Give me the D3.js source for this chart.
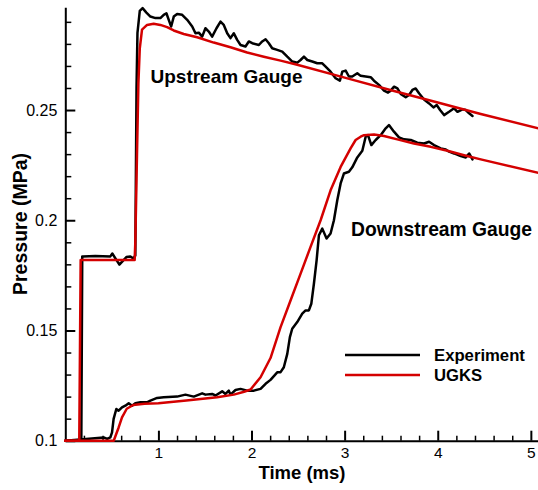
<!DOCTYPE html>
<html>
<head>
<meta charset="utf-8">
<script src="https://cdn.jsdelivr.net/npm/d3@7"></script>
<style>
  html, body { margin: 0; padding: 0; background: #fff; }
  svg { display: block; font-family: Arial, "Liberation Sans", Helvetica, sans-serif; }
</style>
</head>
<body>
<svg id="chart" width="538" height="490"></svg>
<script>
// ---------------- data ----------------
const xMajorTicks = [1, 2, 3, 4, 5];
const yMajorTicks = [0.1, 0.15, 0.2, 0.25];
const yTickLabels = ["0.1", "0.15", "0.2", "0.25"];
const seriesNames = ["Experiment", "UGKS"];
const annotations = ["Upstream Gauge", "Downstream Gauge"];

// Upstream gauge, experiment
const upExpT = [0, 0.172, 0.182, 0.19, 0.322, 0.484, 0.505, 0.581, 0.656, 0.699, 0.731, 0.752, 0.765, 0.775, 0.80, 0.83,
  0.871, 0.914, 0.968, 1.021, 1.057, 1.086, 1.111, 1.137, 1.165, 1.201, 1.255, 1.309, 1.363, 1.398, 1.434, 1.470,
  1.505, 1.541, 1.577, 1.624, 1.667, 1.702, 1.739, 1.774, 1.810, 1.846, 1.882, 1.935, 1.971, 2.008, 2.079, 2.115,
  2.151, 2.186, 2.222, 2.276, 2.330, 2.384, 2.438, 2.492, 2.527, 2.563, 2.599, 2.652, 2.706, 2.760, 2.796, 2.849,
  2.903, 2.949, 2.975, 3.011, 3.046, 3.082, 3.136, 3.172, 3.226, 3.280, 3.315, 3.369, 3.423, 3.466, 3.495, 3.531,
  3.567, 3.602, 3.656, 3.692, 3.728, 3.763, 3.799, 3.853, 3.907, 3.954, 3.989, 4.025, 4.068, 4.122, 4.176, 4.212,
  4.266, 4.301, 4.337, 4.373];
const upExpP = [0.1, 0.1, 0.1836, 0.1836, 0.1838, 0.1836, 0.1849, 0.1799, 0.1833, 0.1836, 0.1826, 0.184, 0.26, 0.285, 0.2950, 0.2962,
  0.2942, 0.2924, 0.2917, 0.2917, 0.2932, 0.2939, 0.2909, 0.2879, 0.2924, 0.2936, 0.2932, 0.2909, 0.2879, 0.2848, 0.2851, 0.2833,
  0.2871, 0.2856, 0.2833, 0.2871, 0.2901, 0.2886, 0.2848, 0.2826, 0.2848, 0.2818, 0.2795, 0.2788, 0.2811, 0.2803, 0.2795, 0.2811,
  0.2821, 0.2803, 0.2780, 0.2773, 0.2765, 0.2742, 0.2720, 0.2715, 0.2727, 0.2742, 0.2727, 0.2720, 0.2712, 0.2712, 0.2697, 0.2674,
  0.2644, 0.2633, 0.2674, 0.2679, 0.2652, 0.2652, 0.2667, 0.2655, 0.2652, 0.2649, 0.2633, 0.2614, 0.2588, 0.2579, 0.2588, 0.2606,
  0.2598, 0.2573, 0.2558, 0.2568, 0.2591, 0.2598, 0.2576, 0.2548, 0.2530, 0.2512, 0.2523, 0.2500, 0.2477, 0.2492, 0.2508, 0.2492,
  0.2503, 0.2500, 0.2485, 0.2473];

// Downstream gauge, experiment
const downExpT = [0, 0.412, 0.45, 0.484, 0.502, 0.519, 0.548, 0.573, 0.609, 0.645, 0.681, 0.717, 0.752, 0.806, 0.878, 0.914,
  0.986, 1.057, 1.201, 1.29, 1.38, 1.47, 1.505, 1.577, 1.613, 1.685, 1.72, 1.756, 1.774, 1.828, 1.882, 1.953, 2.025,
  2.097, 2.151, 2.204, 2.276, 2.312, 2.347, 2.384, 2.412, 2.437, 2.491, 2.545, 2.581, 2.616, 2.642, 2.670, 2.699,
  2.724, 2.760, 2.806, 2.849, 2.885, 2.921, 2.957, 2.992, 3.046, 3.082, 3.136, 3.190, 3.226, 3.251, 3.287, 3.333,
  3.387, 3.441, 3.476, 3.530, 3.584, 3.638, 3.710, 3.781, 3.853, 3.907, 3.960, 4.032, 4.086, 4.122, 4.176, 4.247,
  4.301, 4.337, 4.373];
const downExpP = [0.1, 0.1015, 0.1008, 0.1015, 0.1038, 0.1099, 0.1144, 0.1136, 0.1151, 0.1159, 0.1170, 0.1159, 0.1170, 0.1174, 0.1174, 0.1182,
  0.1194, 0.1197, 0.1200, 0.1209, 0.1200, 0.1215, 0.1209, 0.1212, 0.1205, 0.1224, 0.1212, 0.1227, 0.1209, 0.1230, 0.1235, 0.1227, 0.1227,
  0.1235, 0.1258, 0.1276, 0.1310, 0.1311, 0.1333, 0.1394, 0.1470, 0.1508, 0.1538, 0.1576, 0.1591, 0.1591, 0.1621, 0.1712, 0.1818,
  0.1932, 0.1962, 0.1917, 0.1940, 0.2000, 0.2091, 0.2167, 0.2212, 0.2220, 0.2240, 0.2285, 0.2315, 0.2379, 0.2386, 0.2341, 0.2364,
  0.2386, 0.2417, 0.2432, 0.2402, 0.2376, 0.2367, 0.2364, 0.2352, 0.2348, 0.2356, 0.2341, 0.2326, 0.2321, 0.2311, 0.2303, 0.2291,
  0.2285, 0.2303, 0.2276];

// Upstream gauge, UGKS
const upUgksT = [0, 0.15, 0.165, 0.745, 0.752, 0.77, 0.785, 0.80, 0.824, 0.878, 0.949, 1.021, 1.093, 1.164, 1.272, 1.416,
  1.594, 1.774, 1.953, 2.132, 2.312, 2.491, 3.0, 3.5, 4.0, 4.462, 5.08];
const upUgksP = [0.1, 0.1, 0.182, 0.182, 0.19, 0.23, 0.262, 0.278, 0.2865, 0.2886, 0.2891, 0.2886, 0.2876, 0.2861, 0.2845, 0.2830,
  0.2806, 0.2785, 0.2761, 0.2742, 0.2724, 0.2705, 0.2647, 0.2590, 0.2534, 0.2482, 0.2417];

// Downstream gauge, UGKS
const downUgksT = [0, 0.52, 0.573, 0.609, 0.66, 0.73, 0.85, 1.0, 1.3, 1.63, 1.81, 1.92, 1.99, 2.097, 2.204, 2.312, 2.419,
  2.527, 2.634, 2.742, 2.849, 2.957, 3.064, 3.118, 3.172, 3.208, 3.315, 3.423, 3.566, 3.744, 3.925, 4.104, 4.283, 4.462, 5.08];
const downUgksP = [0.1, 0.1, 0.106, 0.1106, 0.1145, 0.1162, 0.1168, 0.1170, 0.1182, 0.1197, 0.1209, 0.1222, 0.1232, 0.1288, 0.1375, 0.1515, 0.1636,
  0.1758, 0.1879, 0.2000, 0.2136, 0.2242, 0.2326, 0.2364, 0.2379, 0.2386, 0.2389, 0.2382, 0.2367, 0.2348, 0.2333, 0.2315, 0.2295, 0.2276, 0.2215];

// ---------------- drawing ----------------
const svg = d3.select("#chart");
const x = d3.scaleLinear().domain([0, 5.08]).range([65.3, 538.3]);
const y = d3.scaleLinear().domain([0.1, 0.2966]).range([440.7, 7.3]);

const RED = "#d40000";
const FONT = "Arial, 'Liberation Sans', sans-serif";
const zip = (ts, ps) => ts.map((t, i) => [t, ps[i]]);
const line = d3.line().x(d => x(d[0])).y(d => y(d[1]));

// minor ticks
const xMinor = d3.range(0.2, 5.05, 0.2).filter(v => Math.abs(v - Math.round(v)) > 1e-6);
const yMinor = d3.range(0.11, 0.295, 0.01).filter(v => Math.abs(v * 20 - Math.round(v * 20)) > 1e-6);

svg.append("g").attr("transform", `translate(0,${y(0.1)})`)
  .call(d3.axisBottom(x).tickValues(xMinor).tickSize(-5).tickFormat(""))
  .call(g => g.select(".domain").remove())
  .call(g => g.selectAll("line").attr("stroke", "#000").attr("stroke-width", 1.5));
svg.append("g").attr("transform", `translate(${x(0)},0)`)
  .call(d3.axisLeft(y).tickValues(yMinor).tickSize(-6).tickFormat(""))
  .call(g => g.select(".domain").remove())
  .call(g => g.selectAll("line").attr("stroke", "#000").attr("stroke-width", 1.5));

// major axes
svg.append("g").attr("transform", `translate(0,${y(0.1)})`)
  .call(d3.axisBottom(x).tickValues(xMajorTicks).tickSize(-10).tickSizeOuter(0).tickPadding(6).tickFormat(d3.format("d")))
  .call(g => g.select(".domain").attr("stroke", "#000").attr("stroke-width", 2))
  .call(g => g.selectAll("line").attr("stroke", "#000").attr("stroke-width", 2))
  .call(g => g.selectAll("text").attr("font-size", 15.5).attr("fill", "#000").attr("font-family", FONT));

svg.append("g").attr("transform", `translate(${x(0)},0)`)
  .call(d3.axisLeft(y).tickValues(yMajorTicks).tickSize(-10).tickSizeOuter(0).tickPadding(8)
    .tickFormat((d, i) => yTickLabels[i]))
  .call(g => g.select(".domain").attr("stroke", "#000").attr("stroke-width", 2))
  .call(g => g.selectAll("line").attr("stroke", "#000").attr("stroke-width", 2))
  .call(g => g.selectAll("text").attr("font-size", 16).attr("fill", "#000").attr("font-family", FONT));

// series
const drawLine = (data, color) => svg.append("path")
  .datum(data)
  .attr("fill", "none")
  .attr("stroke", color)
  .attr("stroke-width", 2.5)
  .attr("stroke-linejoin", "round")
  .attr("stroke-linecap", "round")
  .attr("d", line);

drawLine(zip(upExpT, upExpP), "#000");
drawLine(zip(downExpT, downExpP), "#000");
drawLine(zip(upUgksT, upUgksP), RED);
drawLine(zip(downUgksT, downUgksP), RED);

// axis titles
svg.append("text").attr("x", 302).attr("y", 479).attr("text-anchor", "middle")
  .attr("font-size", 18.5).attr("font-weight", "bold").text("Time (ms)");
svg.append("text").attr("transform", "translate(27,224) rotate(-90)").attr("text-anchor", "middle")
  .attr("font-size", 19.5).attr("font-weight", "bold").text("Pressure (MPa)");

// annotations
svg.append("text").attr("x", 150.5).attr("y", 83.3).attr("font-size", 19).attr("font-weight", "bold").text(annotations[0]);
svg.append("text").attr("x", 351).attr("y", 236).attr("font-size", 19.3).attr("font-weight", "bold").text(annotations[1]);

// legend
const legend = svg.append("g");
[["#000", 355], [RED, 375]].forEach(([c, ly], i) => {
  legend.append("line").attr("x1", 345).attr("x2", 420).attr("y1", ly).attr("y2", ly)
    .attr("stroke", c).attr("stroke-width", 2.5);
  legend.append("text").attr("x", 434).attr("y", ly + 6).attr("font-size", 16.7).attr("font-weight", "bold")
    .text(seriesNames[i]);
});
</script>
</body>
</html>
